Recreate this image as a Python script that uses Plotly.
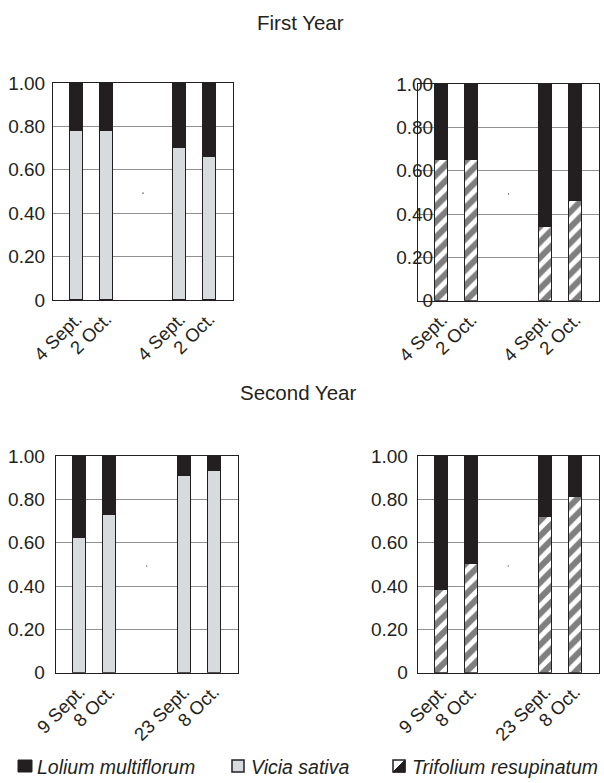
import plotly.graph_objects as go

W, H = 604, 783
FONT = "Liberation Sans, Arial, Helvetica, sans-serif"
INK = "#231f20"
LIGHT = "#d7dbde"

# ---- data -------------------------------------------------------------
dates_year1 = ["4 Sept.", "2 Oct.", "4 Sept.", "2 Oct."]
dates_year2 = ["9 Sept.", "8 Oct.", "23 Sept.", "8 Oct."]
slots = [1, 2, 4.5, 5.5]          # two pairs of sampling dates

vicia_y1 = [0.78, 0.78, 0.70, 0.66]
lolium_with_vicia_y1 = [0.22, 0.22, 0.30, 0.34]
trifolium_y1 = [0.65, 0.65, 0.34, 0.46]
lolium_with_trifolium_y1 = [0.35, 0.35, 0.66, 0.54]

vicia_y2 = [0.62, 0.73, 0.91, 0.93]
lolium_with_vicia_y2 = [0.38, 0.27, 0.09, 0.07]
trifolium_y2 = [0.38, 0.50, 0.72, 0.81]
lolium_with_trifolium_y2 = [0.62, 0.50, 0.28, 0.19]

y_tickvals = [0, 0.2, 0.4, 0.6, 0.8, 1.0]
y_ticktext = ["0", "0.20", "0.40", "0.60", "0.80", "1.00"]

species_names = ["Lolium multiflorum", "Vicia sativa", "Trifolium resupinatum"]


def px(x):
    return x / W


def py(y):
    return 1 - y / H


# ---- panels (pixel boxes: left, right, top, bottom) --------------------
panels = [
    dict(n="", dates=dates_year1, base=vicia_y1, top=lolium_with_vicia_y1,
         legume="vicia", box=(53, 233, 83, 300), standoff=3),
    dict(n="2", dates=dates_year1, base=trifolium_y1, top=lolium_with_trifolium_y1,
         legume="trifolium", box=(418, 599, 84, 300.7), standoff=-20),
    dict(n="3", dates=dates_year2, base=vicia_y2, top=lolium_with_vicia_y2,
         legume="vicia", box=(55.7, 237.7, 456, 672.7), standoff=6),
    dict(n="4", dates=dates_year2, base=trifolium_y2, top=lolium_with_trifolium_y2,
         legume="trifolium", box=(417.7, 598.7, 456, 672.7), standoff=5),
]

styles = {
    "vicia": dict(name=species_names[1],
                  marker=dict(color=LIGHT, line=dict(color=INK, width=1))),
    "trifolium": dict(name=species_names[2],
                      marker=dict(color="white", line=dict(color=INK, width=1),
                                  pattern=dict(shape="/", fgcolor="#000000", bgcolor="white",
                                               size=11, solidity=0.55))),
}

fig = go.Figure()
layout_axes = {}
for p in panels:
    xa, ya = "x" + p["n"], "y" + p["n"]
    st = styles[p["legume"]]
    fig.add_trace(go.Bar(
        x=slots, y=p["base"], xaxis=xa, yaxis=ya, width=0.44,
        name=st["name"], marker=st["marker"], showlegend=False, hoverinfo="skip"))
    fig.add_trace(go.Bar(
        x=slots, y=p["top"], xaxis=xa, yaxis=ya, width=0.44,
        name=species_names[0],
        marker=dict(color=INK, line=dict(color=INK, width=1)),
        showlegend=False, hoverinfo="skip"))

    l, r, t, b = p["box"]
    layout_axes["xaxis" + p["n"]] = dict(
        domain=[px(l), px(r)], anchor=ya, range=[0.2, 6.3],
        tickmode="array", tickvals=slots, ticktext=p["dates"], tickangle=-45,
        ticks="", showline=True, mirror=True, linecolor=INK, linewidth=1,
        showgrid=False, zeroline=False, automargin=False,
        tickfont=dict(family=FONT, size=18.5, color=INK))
    layout_axes["yaxis" + p["n"]] = dict(
        domain=[py(b), py(t)], anchor=xa, range=[0, 1],
        tickmode="array", tickvals=y_tickvals, ticktext=y_ticktext,
        ticks="", showline=True, mirror=True, linecolor=INK, linewidth=1,
        showgrid=True, gridcolor="#8f8f8f", gridwidth=1, zeroline=False,
        automargin=False, ticklabelstandoff=p["standoff"],
        tickfont=dict(family=FONT, size=19, color=INK))
    # tiny stray dot in the centre of each panel
    fig.add_shape(type="rect", xref=xa + " domain", yref=ya + " domain",
                  x0=0.497, x1=0.503, y0=0.49, y1=0.495,
                  line=dict(width=0), fillcolor=INK)

fig.update_layout(**layout_axes)

# ---- panel-row titles --------------------------------------------------
for txt, cx, cy in [("First Year", 300, 23), ("Second Year", 297.5, 392)]:
    fig.add_annotation(text=txt, x=px(cx), y=py(cy), xref="paper", yref="paper",
                       showarrow=False, xanchor="center", yanchor="middle",
                       font=dict(family=FONT, size=20.5, color=INK))

# ---- legend (drawn as keys + italic labels) ----------------------------
LEG_Y = 766
key_left = [18, 232, 393]
for i, name in enumerate(species_names):
    x0 = key_left[i]
    x1 = x0 + 12
    y0, y1 = LEG_Y - 6, LEG_Y + 6
    if i == 0:
        fig.add_shape(type="rect", xref="paper", yref="paper",
                      x0=px(x0), x1=px(x1 + 2), y0=py(y1), y1=py(y0),
                      line=dict(color=INK, width=1), fillcolor=INK)
    elif i == 1:
        fig.add_shape(type="rect", xref="paper", yref="paper",
                      x0=px(x0), x1=px(x1), y0=py(y1), y1=py(y0),
                      line=dict(color=INK, width=1.5), fillcolor=LIGHT)
    else:
        fig.add_shape(type="rect", xref="paper", yref="paper",
                      x0=px(x0), x1=px(x1), y0=py(y1), y1=py(y0),
                      line=dict(color=INK, width=1.5), fillcolor="white")
        path = "M{},{} L{},{} L{},{} Z".format(px(x0), py(y1), px(x1), py(y0),
                                               px(x1), py(y1))
        fig.add_shape(type="path", xref="paper", yref="paper", path=path,
                      line=dict(color=INK, width=1), fillcolor=INK)
    fig.add_annotation(text="<i>" + name + "</i>", x=px(x1 + 5), y=py(LEG_Y + 1),
                       xref="paper", yref="paper", showarrow=False,
                       xanchor="left", yanchor="middle",
                       font=dict(family=FONT, size=19.5, color=INK))

fig.update_layout(
    width=W, height=H, barmode="stack", bargap=0, showlegend=False,
    margin=dict(l=0, r=0, t=0, b=0, autoexpand=False),
    paper_bgcolor="white", plot_bgcolor="white",
    font=dict(family=FONT, color=INK),
)

fig.write_html("out.html", config={"displayModeBar": False},
               post_script="document.body.style.margin='0';document.body.style.overflow='hidden';")
